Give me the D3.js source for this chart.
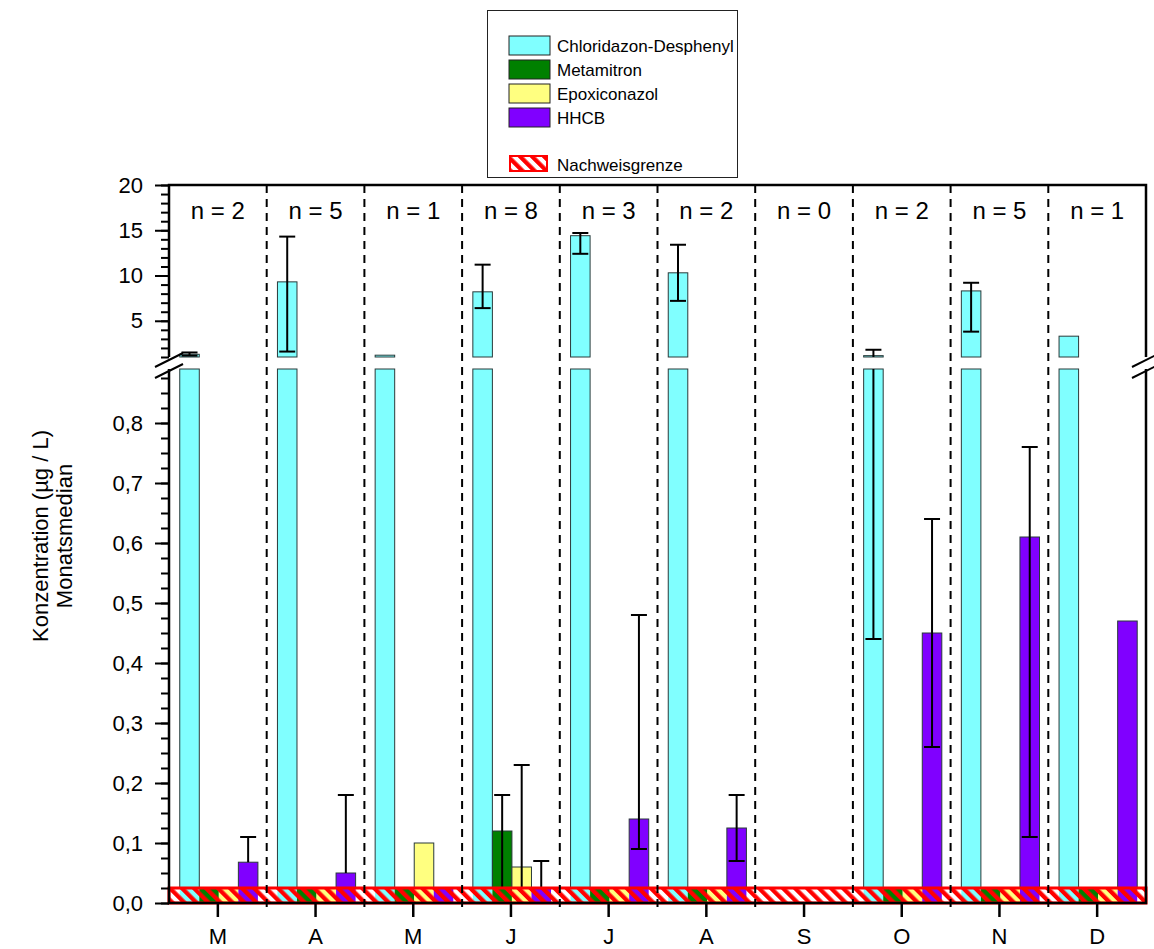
<!DOCTYPE html>
<html>
<head>
<meta charset="utf-8">
<script src="https://cdn.jsdelivr.net/npm/d3@7"></script>
<style>
  body { margin: 0; background: #fff; }
  text { font-family: Arial, "Liberation Sans", sans-serif; fill: #000; }
</style>
</head>
<body>
<svg id="chart" width="1154" height="949"></svg>
<script>
// Months (March – December) and number of samples per month
const months = ["M", "A", "M", "J", "J", "A", "S", "O", "N", "D"];
const sampleCounts = [2, 5, 1, 8, 3, 2, 0, 2, 5, 1];

const seriesNames = ["Chloridazon-Desphenyl", "Metamitron", "Epoxiconazol", "HHCB"];
const seriesColors = ["#80ffff", "#008000", "#ffff80", "#8000ff"];

// Monthly medians in µg/L (null = not detected / no bar)
const chloridazonMedian = [1.3, 9.3, 1.2, 8.2, 14.4, 10.3, null, 1.15, 8.3, 3.3];
const chloridazonHigh   = [1.5, 14.3, null, 11.2, 14.7, 13.4, null, 1.8, 9.2, null];
const chloridazonLow    = [1.15, 1.6, null, 6.4, 12.4, 7.2, null, 0.44, 3.8, null];

const metamitronMedian  = [null, null, null, 0.12, null, null, null, null, null, null];
const metamitronHigh    = [null, null, null, 0.18, null, null, null, null, null, null];
const metamitronLow     = [null, null, null, 0.01, null, null, null, null, null, null];

const epoxiconazolMedian = [null, null, 0.1, 0.06, null, null, null, null, null, null];
const epoxiconazolHigh   = [null, null, null, 0.23, null, null, null, null, null, null];
const epoxiconazolLow    = [null, null, null, 0.01, null, null, null, null, null, null];

const hhcbMedian = [0.068, 0.05, null, 0.02, 0.14, 0.125, null, 0.45, 0.61, 0.47];
const hhcbHigh   = [0.11, 0.18, null, 0.07, 0.48, 0.18, null, 0.64, 0.76, null];
const hhcbLow    = [null, null, null, 0.01, 0.09, 0.07, null, 0.26, 0.11, null];

// Detection limit (Nachweisgrenze), µg/L
const detectionLimit = 0.025;

// Axis ticks
const upperMajorTicks = [5, 10, 15, 20];
const upperMinorTicks = d3.range(1, 21);
const lowerMajorTicks = [0, 0.1, 0.2, 0.3, 0.4, 0.5, 0.6, 0.7, 0.8];
const lowerMinorTicks = d3.range(0, 0.88, 0.025);

const series = seriesNames.map((name, i) => ({
  name,
  color: seriesColors[i],
  median: [chloridazonMedian, metamitronMedian, epoxiconazolMedian, hhcbMedian][i],
  high: [chloridazonHigh, metamitronHigh, epoxiconazolHigh, hhcbHigh][i],
  low: [chloridazonLow, metamitronLow, epoxiconazolLow, hhcbLow][i]
}));

const svg = d3.select("#chart");
const plotLeft = 169, plotRight = 1146, plotTop = 185, plotBottom = 903;
const upperBottom = 357, lowerTop = 369;
const lowerMax = 0.89, upperMin = 1;

const x = d3.scaleBand().domain(d3.range(months.length)).range([plotLeft, plotRight]);
const bw = x.bandwidth();
const xs = d3.scaleBand().domain(seriesNames).range([bw * 0.11, bw * 0.91]);
const yUp = d3.scaleLinear().domain([upperMin, 20]).range([upperBottom, plotTop]);
const yLo = d3.scaleLinear().domain([0, lowerMax]).range([plotBottom, lowerTop]);

const deComma = d3.formatLocale({ decimal: ",", thousands: ".", grouping: [3], currency: ["", "€"] });
const fmt1 = deComma.format(".1f");

// Hatch pattern for the detection limit band
const defs = svg.append("defs");
const pat = defs.append("pattern")
  .attr("id", "hatch")
  .attr("patternUnits", "userSpaceOnUse")
  .attr("width", 8.5).attr("height", 8.5)
  .attr("patternTransform", "rotate(-45)");
pat.append("rect").attr("x", 0).attr("y", 0).attr("width", 4.3).attr("height", 8.5).attr("fill", "#ff0000");

// ---- Bars ----
const barG = svg.append("g");
series.forEach(s => {
  s.median.forEach((v, m) => {
    if (v == null) return;
    const bx = x(m) + xs(s.name);
    const lowTop = yLo(Math.min(v, lowerMax));
    barG.append("rect")
      .attr("x", bx).attr("y", lowTop)
      .attr("width", xs.bandwidth()).attr("height", yLo(0) - lowTop)
      .attr("fill", s.color).attr("stroke", "#2a3a3a").attr("stroke-width", 1);
    if (v > upperMin) {
      barG.append("rect")
        .attr("x", bx).attr("y", yUp(v))
        .attr("width", xs.bandwidth()).attr("height", yUp(upperMin) - yUp(v))
        .attr("fill", s.color).attr("stroke", "#2a3a3a").attr("stroke-width", 1);
    }
  });
});

// ---- Error bars (may span both panels) ----
const errG = svg.append("g").attr("stroke", "#000").attr("stroke-width", 2);
const capHalf = 8;
function yAny(v) { return v > lowerMax ? yUp(Math.max(v, upperMin)) : yLo(v); }
series.forEach(s => {
  s.median.forEach((v, m) => {
    const hi = s.high[m];
    if (v == null || hi == null) return;
    const lo = s.low[m];
    const cx = x(m) + xs(s.name) + xs.bandwidth() / 2;
    const a = lo == null ? v : lo;
    if (a < lowerMax) {
      errG.append("line").attr("x1", cx).attr("x2", cx)
        .attr("y1", yLo(a)).attr("y2", yLo(Math.min(hi, lowerMax)));
    }
    if (hi > upperMin) {
      errG.append("line").attr("x1", cx).attr("x2", cx)
        .attr("y1", yUp(Math.max(a, upperMin))).attr("y2", yUp(hi));
    }
    errG.append("line").attr("x1", cx - capHalf).attr("x2", cx + capHalf)
      .attr("y1", yAny(hi)).attr("y2", yAny(hi));
    if (lo != null) {
      errG.append("line").attr("x1", cx - capHalf).attr("x2", cx + capHalf)
        .attr("y1", yAny(lo)).attr("y2", yAny(lo));
    }
  });
});

// ---- Detection limit band ----
const bandG = svg.append("g");
const bandTop = yLo(detectionLimit), bandBot = yLo(0);
bandG.append("rect").attr("x", plotLeft).attr("y", bandTop)
  .attr("width", plotRight - plotLeft).attr("height", bandBot - bandTop).attr("fill", "#fff");
series.forEach(s => {
  sampleCounts.forEach((n, m) => {
    if (n === 0) return;
    bandG.append("rect")
      .attr("x", x(m) + xs(s.name)).attr("y", bandTop)
      .attr("width", xs.bandwidth()).attr("height", bandBot - bandTop)
      .attr("fill", s.color);
  });
});
bandG.append("rect").attr("x", plotLeft).attr("y", bandTop)
  .attr("width", plotRight - plotLeft).attr("height", bandBot - bandTop)
  .attr("fill", "url(#hatch)").attr("stroke", "#ff0000").attr("stroke-width", 3);

// ---- Month separators ----
svg.append("g").selectAll("line").data(d3.range(1, months.length)).join("line")
  .attr("x1", d => x(d)).attr("x2", d => x(d))
  .attr("y1", plotTop).attr("y2", 912)
  .attr("stroke", "#000").attr("stroke-width", 2).attr("stroke-dasharray", "8,6");

// ---- Sample counts ----
svg.append("g").selectAll("text").data(sampleCounts).join("text")
  .attr("x", (d, i) => x(i) + bw / 2).attr("y", 219)
  .attr("text-anchor", "middle").style("font-size", "24px")
  .text(d => "n = " + d);

// ---- Axes ----
function styleAxis(g) {
  g.select(".domain").remove();
  g.selectAll(".tick line").attr("stroke", "#000").attr("stroke-width", 2);
  g.selectAll(".tick text").style("font-size", "22px").style("font-family", "Arial, 'Liberation Sans', sans-serif");
}
svg.append("g").attr("transform", `translate(${plotLeft},0)`)
  .call(d3.axisLeft(yUp).tickValues(upperMinorTicks).tickSize(8).tickFormat(""))
  .call(styleAxis);
svg.append("g").attr("transform", `translate(${plotLeft},0)`)
  .call(d3.axisLeft(yUp).tickValues(upperMajorTicks).tickSize(14).tickPadding(12).tickFormat(d3.format("d")))
  .call(styleAxis);
svg.append("g").attr("transform", `translate(${plotLeft},0)`)
  .call(d3.axisLeft(yLo).tickValues(lowerMinorTicks).tickSize(8).tickFormat(""))
  .call(styleAxis);
svg.append("g").attr("transform", `translate(${plotLeft},0)`)
  .call(d3.axisLeft(yLo).tickValues(lowerMajorTicks).tickSize(14).tickPadding(12).tickFormat(fmt1))
  .call(styleAxis);

const xAxis = svg.append("g").attr("transform", `translate(0,${plotBottom})`)
  .call(d3.axisBottom(x).tickSize(14).tickPadding(11).tickFormat(i => months[i]));
xAxis.select(".domain").remove();
xAxis.selectAll(".tick line").attr("stroke", "#000").attr("stroke-width", 2.5);
xAxis.selectAll(".tick text").style("font-size", "22px").style("font-family", "Arial, 'Liberation Sans', sans-serif");

// Frame with broken axes
const frame = svg.append("g").attr("stroke", "#000").attr("stroke-width", 2.5).attr("fill", "none");
frame.append("path").attr("d",
  `M${plotLeft},${upperBottom}V${plotTop}H${plotRight}V${upperBottom}` +
  `M${plotLeft},${lowerTop}V${plotBottom}H${plotRight}V${lowerTop}`);
[plotLeft, plotRight].forEach(bx => {
  [0, 11].forEach(off => {
    frame.append("line")
      .attr("x1", bx - 14).attr("y1", 367 + off)
      .attr("x2", bx + 14).attr("y2", 353 + off)
      .attr("stroke-width", 2);
  });
});

// ---- Y axis title ----
svg.append("text").attr("transform", "translate(48,536) rotate(-90)")
  .attr("text-anchor", "middle").style("font-size", "22px").text("Konzentration (µg / L)");
svg.append("text").attr("transform", "translate(72,536) rotate(-90)")
  .attr("text-anchor", "middle").style("font-size", "22px").text("Monatsmedian");

// ---- Legend ----
const lg = svg.append("g");
lg.append("rect").attr("x", 487.5).attr("y", 10.5).attr("width", 250).attr("height", 167)
  .attr("fill", "#fff").attr("stroke", "#222").attr("stroke-width", 1);
series.forEach((s, i) => {
  const ly = 36 + i * 24;
  lg.append("rect").attr("x", 509).attr("y", ly).attr("width", 41).attr("height", 19)
    .attr("fill", s.color).attr("stroke", "#222").attr("stroke-width", 1);
  lg.append("text").attr("x", 557).attr("y", ly + 16).style("font-size", "17px").text(s.name);
});
lg.append("rect").attr("x", 510).attr("y", 156).attr("width", 37).attr("height", 15)
  .attr("fill", "#fff");
lg.append("rect").attr("x", 510).attr("y", 156).attr("width", 37).attr("height", 15)
  .attr("fill", "url(#hatch)").attr("stroke", "#ff0000").attr("stroke-width", 2);
lg.append("text").attr("x", 557).attr("y", 171).style("font-size", "17px").text("Nachweisgrenze");
</script>
</body>
</html>
